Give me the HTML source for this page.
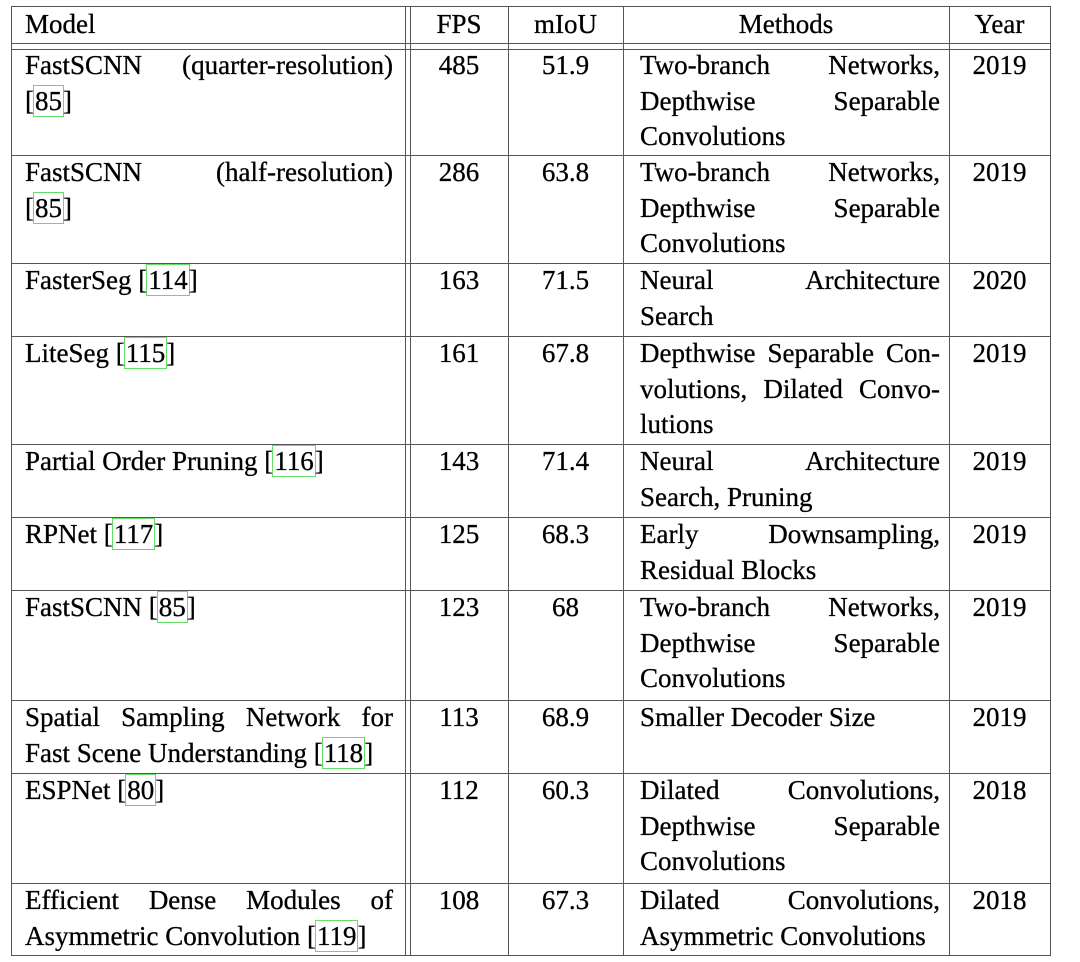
<!DOCTYPE html>
<html><head><meta charset="utf-8"><style>
body{margin:0;width:1080px;height:962px;background:#fff;position:relative;font-family:"Liberation Serif","Times New Roman",serif;font-size:27px;color:#000;-webkit-text-stroke:0.3px #000;overflow:hidden}
.h{position:absolute;height:0;border-top:1.5px solid #555}
.v{position:absolute;width:0;border-left:1.5px solid #555}
.c{position:absolute;line-height:35.5px;white-space:nowrap}
.m{left:25px;width:368px}
.f{left:410px;width:98px;text-align:center}
.i{left:508px;width:115px;text-align:center}
.t{left:640px;width:300px}
.y{left:949px;width:101px;text-align:center}
.c div.jj{text-align:justify;text-align-last:justify}
.r{border:1px solid #6d6;padding:0 1px;margin:0 -1px;-webkit-text-stroke:0.3px #000}
</style></head><body>
<div class="h" style="left:11px;width:1040px;top:6px"></div>
<div class="h" style="left:11px;width:1040px;top:43px"></div>
<div class="h" style="left:11px;width:1040px;top:49px"></div>
<div class="h" style="left:11px;width:1040px;top:155px"></div>
<div class="h" style="left:11px;width:1040px;top:263px"></div>
<div class="h" style="left:11px;width:1040px;top:336px"></div>
<div class="h" style="left:11px;width:1040px;top:444px"></div>
<div class="h" style="left:11px;width:1040px;top:517px"></div>
<div class="h" style="left:11px;width:1040px;top:590px"></div>
<div class="h" style="left:11px;width:1040px;top:700px"></div>
<div class="h" style="left:11px;width:1040px;top:773px"></div>
<div class="h" style="left:11px;width:1040px;top:883px"></div>
<div class="h" style="left:11px;width:1040px;top:955px"></div>
<div class="v" style="left:11px;top:6px;height:950px"></div>
<div class="v" style="left:405px;top:6px;height:950px"></div>
<div class="v" style="left:410px;top:6px;height:950px"></div>
<div class="v" style="left:508px;top:6px;height:950px"></div>
<div class="v" style="left:623px;top:6px;height:950px"></div>
<div class="v" style="left:949px;top:6px;height:950px"></div>
<div class="v" style="left:1050px;top:6px;height:950px"></div>

<div class="c m" style="top:7px">Model</div>
<div class="c f" style="top:7px">FPS</div>
<div class="c i" style="top:7px">mIoU</div>
<div class="c" style="left:623px;width:326px;text-align:center;top:7px">Methods</div>
<div class="c y" style="top:7px">Year</div>

<div class="c m" style="top:48px"><div class="jj">FastSCNN (quarter-resolution)</div><div>[<span class="r">85</span>]</div></div>
<div class="c f" style="top:48px">485</div><div class="c i" style="top:48px">51.9</div>
<div class="c t" style="top:48px"><div class="jj">Two-branch Networks,</div><div class="jj">Depthwise Separable</div><div>Convolutions</div></div>
<div class="c y" style="top:48px">2019</div>

<div class="c m" style="top:155px"><div class="jj">FastSCNN (half-resolution)</div><div>[<span class="r">85</span>]</div></div>
<div class="c f" style="top:155px">286</div><div class="c i" style="top:155px">63.8</div>
<div class="c t" style="top:155px"><div class="jj">Two-branch Networks,</div><div class="jj">Depthwise Separable</div><div>Convolutions</div></div>
<div class="c y" style="top:155px">2019</div>

<div class="c m" style="top:263px">FasterSeg [<span class="r">114</span>]</div>
<div class="c f" style="top:263px">163</div><div class="c i" style="top:263px">71.5</div>
<div class="c t" style="top:263px"><div class="jj">Neural Architecture</div><div>Search</div></div>
<div class="c y" style="top:263px">2020</div>

<div class="c m" style="top:336px">LiteSeg [<span class="r">115</span>]</div>
<div class="c f" style="top:336px">161</div><div class="c i" style="top:336px">67.8</div>
<div class="c t" style="top:336px"><div class="jj">Depthwise Separable Con-</div><div class="jj">volutions, Dilated Convo-</div><div>lutions</div></div>
<div class="c y" style="top:336px">2019</div>

<div class="c m" style="top:444px">Partial Order Pruning [<span class="r">116</span>]</div>
<div class="c f" style="top:444px">143</div><div class="c i" style="top:444px">71.4</div>
<div class="c t" style="top:444px"><div class="jj">Neural Architecture</div><div>Search, Pruning</div></div>
<div class="c y" style="top:444px">2019</div>

<div class="c m" style="top:517px">RPNet [<span class="r">117</span>]</div>
<div class="c f" style="top:517px">125</div><div class="c i" style="top:517px">68.3</div>
<div class="c t" style="top:517px"><div class="jj">Early Downsampling,</div><div>Residual Blocks</div></div>
<div class="c y" style="top:517px">2019</div>

<div class="c m" style="top:590px">FastSCNN [<span class="r">85</span>]</div>
<div class="c f" style="top:590px">123</div><div class="c i" style="top:590px">68</div>
<div class="c t" style="top:590px"><div class="jj">Two-branch Networks,</div><div class="jj">Depthwise Separable</div><div>Convolutions</div></div>
<div class="c y" style="top:590px">2019</div>

<div class="c m" style="top:700px"><div class="jj">Spatial Sampling Network for</div><div>Fast Scene Understanding [<span class="r">118</span>]</div></div>
<div class="c f" style="top:700px">113</div><div class="c i" style="top:700px">68.9</div>
<div class="c t" style="top:700px">Smaller Decoder Size</div>
<div class="c y" style="top:700px">2019</div>

<div class="c m" style="top:773px">ESPNet [<span class="r">80</span>]</div>
<div class="c f" style="top:773px">112</div><div class="c i" style="top:773px">60.3</div>
<div class="c t" style="top:773px"><div class="jj">Dilated Convolutions,</div><div class="jj">Depthwise Separable</div><div>Convolutions</div></div>
<div class="c y" style="top:773px">2018</div>

<div class="c m" style="top:883px"><div class="jj">Efficient Dense Modules of</div><div>Asymmetric Convolution [<span class="r">119</span>]</div></div>
<div class="c f" style="top:883px">108</div><div class="c i" style="top:883px">67.3</div>
<div class="c t" style="top:883px"><div class="jj">Dilated Convolutions,</div><div>Asymmetric Convolutions</div></div>
<div class="c y" style="top:883px">2018</div>
</body></html>
